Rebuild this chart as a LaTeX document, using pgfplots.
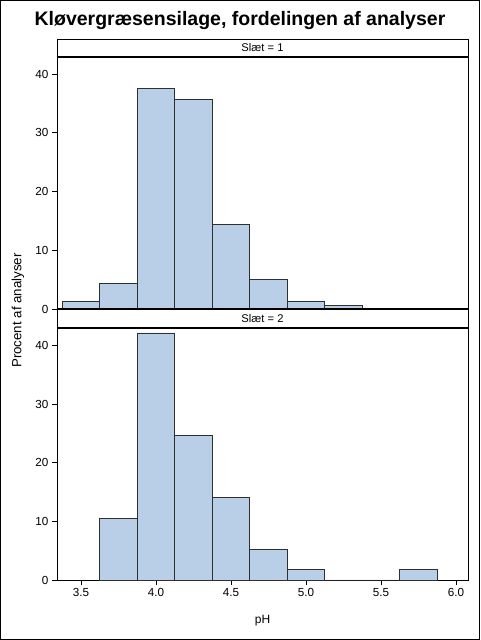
\documentclass[border=0pt]{standalone}
\usepackage{pgfplots}
\pgfplotsset{compat=1.18}
\usepackage{fontspec}
\setmainfont{Liberation Sans}
\definecolor{barfill}{HTML}{B9CFE8}
\definecolor{baredge}{HTML}{2F2F2F}
\pgfplotsset{
  panel/.style={
    anchor=south west, scale only axis, width=411pt,
    xmin=3.34, xmax=6.08, ymin=0,
    ytick={0,10,20,30,40},
    tick align=outside, major tick length=5pt,
    xtick pos=bottom, ytick pos=left,
    tick style={black, line width=0.6pt},
    axis line style={line width=0.8pt},
    ticklabel style={font=\fontsize{11.7}{13}\selectfont},
    /pgf/number format/assume math mode=true,
    xticklabel style={/pgf/number format/.cd, fixed, fixed zerofill, precision=1},
    clip=false,
  },
  hbar/.style={ybar, bar width=0.25, bar shift=0pt, fill=barfill, draw=baredge, line width=0.8pt},
}
\begin{document}
\begin{tikzpicture}[x=1pt,y=1pt]
\useasboundingbox (0,0) rectangle (480,640);
\draw[line width=1pt] (0.5,0.5) rectangle (479.5,639.5);
\node[font=\bfseries\fontsize{19.5}{23}\selectfont] at (240,619.5) {Kløvergræsensilage, fordelingen af analyser};
% panel 1
\begin{axis}[panel, at={(57pt,331pt)}, height=252pt, ymax=42.9, xtick=\empty]
\addplot[hbar] coordinates {(3.5,1.25) (3.75,4.375) (4.0,37.5) (4.25,35.625) (4.5,14.375) (4.75,5.0) (5.0,1.25) (5.25,0.625) (5.5,0) (5.75,0)};
\end{axis}
% panel 2
\begin{axis}[panel, at={(57pt,60pt)}, height=252.3pt, ymax=43.0,
  xtick={3.5,4.0,4.5,5.0,5.5,6.0},
  xlabel={pH}, xlabel style={font=\fontsize{12}{14}\selectfont, yshift=-12pt}]
\addplot[hbar] coordinates {(3.75,10.53) (4.0,42.11) (4.25,24.56) (4.5,14.04) (4.75,5.26) (5.0,1.75) (5.25,0) (5.5,0) (5.75,1.75)};
\end{axis}
% header strip 1
\draw[line width=0.8pt] (57,583) -- (57,601) -- (468,601) -- (468,583);
\draw[line width=1.8pt] (56.6,583) -- (468.4,583);
\node[font=\fontsize{11.2}{12}\selectfont] at (262.5,592) {Slæt = 1};
% header strip 2
\draw[line width=0.8pt] (57,312.3) -- (57,331) (468,312.3) -- (468,331);
\draw[line width=1.8pt] (56.6,331) -- (468.4,331);
\draw[line width=1.8pt] (56.6,312.3) -- (468.4,312.3);
\node[font=\fontsize{11.2}{12}\selectfont] at (262.5,321.5) {Slæt = 2};
\node[rotate=90, font=\fontsize{13.3}{15}\selectfont] at (18,329.5) {Procent af analyser};
\end{tikzpicture}
\end{document}
